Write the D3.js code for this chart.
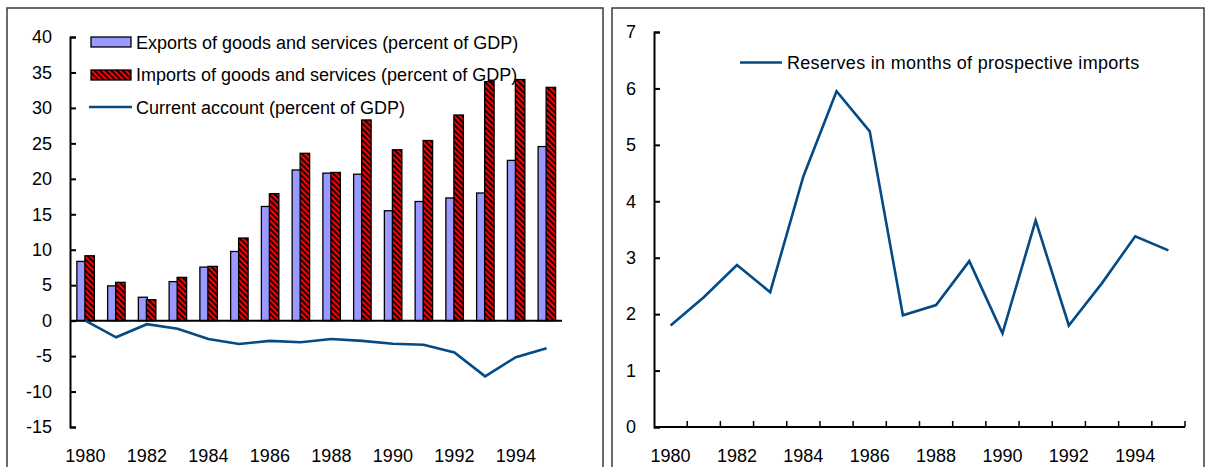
<!DOCTYPE html>
<html lang="en">
<head>
<meta charset="UTF-8" />
<title>Trade, current account and reserves</title>
<script src="https://d3js.org/d3.v7.min.js"></script>
<style>
  body { margin: 0; background: #fff; }
  text { font-family: "Liberation Sans", Arial, sans-serif; fill: #000; }
</style>
</head>
<body>
<svg width="1212" height="467"></svg>
<script>
// data
const years = d3.range(1980, 1996);
const exportsGdp = [8.35, 4.9, 3.3, 5.5, 7.55, 9.75, 16.1, 21.25, 20.8, 20.65, 15.5, 16.8, 17.3, 18.0, 22.6, 24.55];
const importsGdp = [9.15, 5.4, 2.95, 6.1, 7.65, 11.65, 17.9, 23.6, 20.9, 28.3, 24.1, 25.4, 29.0, 33.7, 34.0, 32.9];
const currentAccount = [0, -2.35, -0.5, -1.15, -2.6, -3.3, -2.85, -3.05, -2.6, -2.85, -3.25, -3.4, -4.5, -7.85, -5.15, -3.9];
const reserves = [1.8, 2.3, 2.87, 2.39, 4.44, 5.95, 5.24, 1.98, 2.16, 2.94, 1.66, 3.66, 1.8, 2.55, 3.38, 3.13];
const leftTicks = [-15, -10, -5, 0, 5, 10, 15, 20, 25, 30, 35, 40];
const rightTicks = [0, 1, 2, 3, 4, 5, 6, 7];
const yearLabels = years.filter(d => d % 2 === 0);

const legendLeft = [
  'Exports of goods and services (percent of GDP)',
  'Imports of goods and services (percent of GDP)',
  'Current account (percent of GDP)'
];
const legendRight = 'Reserves in months of prospective imports';

const lineColor = '#044a85';
const font = '"Liberation Sans", Arial, sans-serif';
const plain = d => String(d); // keep the plain hyphen for negatives
const svg = d3.select('svg');

// stripes for the imports bars
const defs = svg.append('defs');
const pat = defs.append('pattern')
  .attr('id', 'hatch')
  .attr('patternUnits', 'userSpaceOnUse')
  .attr('width', 4).attr('height', 4)
  .attr('patternTransform', 'rotate(-45)');
pat.append('rect').attr('width', 4).attr('height', 4).attr('fill', '#ff0000');
pat.append('rect').attr('width', 1.8).attr('height', 4).attr('fill', '#000');

// panel frames
svg.append('rect').attr('x', 7).attr('y', 8).attr('width', 596).attr('height', 470)
  .attr('fill', 'none').attr('stroke', '#3a3a3a').attr('stroke-width', 1.5);
svg.append('rect').attr('x', 612).attr('y', 8).attr('width', 592).attr('height', 470)
  .attr('fill', 'none').attr('stroke', '#3a3a3a').attr('stroke-width', 1.5);

// ---------- left chart ----------
const x1 = d3.scaleBand().domain(years).range([70, 562]);
const y1 = d3.scaleLinear().domain([-15, 40]).range([427, 37]);
const c1 = d => x1(d) + x1.bandwidth() / 2;

const left = svg.append('g');

left.selectAll('.exp').data(years).enter().append('rect')
  .attr('class', 'exp')
  .attr('x', d => c1(d) - 8.5)
  .attr('width', 9)
  .attr('y', (d, i) => y1(exportsGdp[i]))
  .attr('height', (d, i) => y1(0) - y1(exportsGdp[i]))
  .attr('fill', '#9999ff').attr('stroke', '#000').attr('stroke-width', 1.3);

left.selectAll('.imp').data(years).enter().append('rect')
  .attr('class', 'imp')
  .attr('x', d => c1(d) - 0.5)
  .attr('width', 9.5)
  .attr('y', (d, i) => y1(importsGdp[i]))
  .attr('height', (d, i) => y1(0) - y1(importsGdp[i]))
  .attr('fill', 'url(#hatch)').attr('stroke', '#000').attr('stroke-width', 1.3);

// zero line
left.append('line')
  .attr('x1', 70).attr('x2', 562)
  .attr('y1', y1(0)).attr('y2', y1(0))
  .attr('stroke', '#000').attr('stroke-width', 2);

left.append('path')
  .datum(currentAccount)
  .attr('fill', 'none').attr('stroke', lineColor).attr('stroke-width', 2.6)
  .attr('d', d3.line().x((d, i) => c1(years[i])).y(d => y1(d)));

const yAxis1 = left.append('g').attr('transform', 'translate(70,0)')
  .call(d3.axisLeft(y1).tickValues(leftTicks).tickFormat(plain).tickSize(-6).tickPadding(18));
yAxis1.select('.domain').attr('stroke-width', 2);
yAxis1.selectAll('.tick line').attr('stroke-width', 2);
yAxis1.selectAll('text').style('font-size', '18px').style('font-family', font);

const xAxis1 = left.append('g').attr('transform', 'translate(0,449)')
  .call(d3.axisBottom(x1).tickValues(yearLabels).tickSize(0).tickPadding(0));
xAxis1.select('.domain').remove();
xAxis1.selectAll('text').style('font-size', '18px').style('font-family', font);

// legend
const lg1 = left.append('g').style('font-size', '18px');
lg1.append('rect').attr('x', 91).attr('y', 37).attr('width', 40).attr('height', 10)
  .attr('fill', '#9999ff').attr('stroke', '#000').attr('stroke-width', 1.3);
lg1.append('rect').attr('x', 91).attr('y', 70).attr('width', 40).attr('height', 10)
  .attr('fill', 'url(#hatch)').attr('stroke', '#000').attr('stroke-width', 1.3);
lg1.append('line').attr('x1', 89).attr('x2', 132).attr('y1', 107).attr('y2', 107)
  .attr('stroke', lineColor).attr('stroke-width', 2.6);
lg1.selectAll('text').data(legendLeft).enter().append('text')
  .attr('x', 136)
  .attr('y', (d, i) => 48.5 + i * 32.5)
  .text(d => d);

// ---------- right chart ----------
const x2 = d3.scaleBand().domain(years).range([654, 1185]);
const y2 = d3.scaleLinear().domain([0, 7]).range([427, 32]);
const c2 = d => x2(d) + x2.bandwidth() / 2;

const right = svg.append('g');

right.append('path')
  .datum(reserves)
  .attr('fill', 'none').attr('stroke', lineColor).attr('stroke-width', 2.6)
  .attr('stroke-linejoin', 'miter')
  .attr('d', d3.line().x((d, i) => c2(years[i])).y(d => y2(d)));

const yAxis2 = right.append('g').attr('transform', 'translate(654,0)')
  .call(d3.axisLeft(y2).tickValues(rightTicks).tickFormat(plain).tickSize(-6).tickPadding(18));
yAxis2.select('.domain').attr('stroke-width', 2);
yAxis2.selectAll('.tick line').attr('stroke-width', 2);
yAxis2.selectAll('text').style('font-size', '18px').style('font-family', font);

// x axis line with ticks on the category boundaries
right.append('line')
  .attr('x1', 654).attr('x2', 1185).attr('y1', y2(0)).attr('y2', y2(0))
  .attr('stroke', '#000').attr('stroke-width', 2);
right.selectAll('.bt').data(years.slice(1).map(d => x2(d)).concat([x2.range()[1]])).enter().append('line')
  .attr('class', 'bt')
  .attr('x1', d => d).attr('x2', d => d)
  .attr('y1', y2(0)).attr('y2', y2(0) - 6)
  .attr('stroke', '#000').attr('stroke-width', 1.5);

const xAxis2 = right.append('g').attr('transform', 'translate(0,449)')
  .call(d3.axisBottom(x2).tickValues(yearLabels).tickSize(0).tickPadding(0));
xAxis2.select('.domain').remove();
xAxis2.selectAll('text').style('font-size', '18px').style('font-family', font);

const lg2 = right.append('g').style('font-size', '18px');
lg2.append('line').attr('x1', 740).attr('x2', 782).attr('y1', 62.5).attr('y2', 62.5)
  .attr('stroke', lineColor).attr('stroke-width', 2.6);
lg2.append('text').attr('x', 787).attr('y', 69).attr('letter-spacing', 0.3).text(legendRight);
</script>
</body>
</html>
